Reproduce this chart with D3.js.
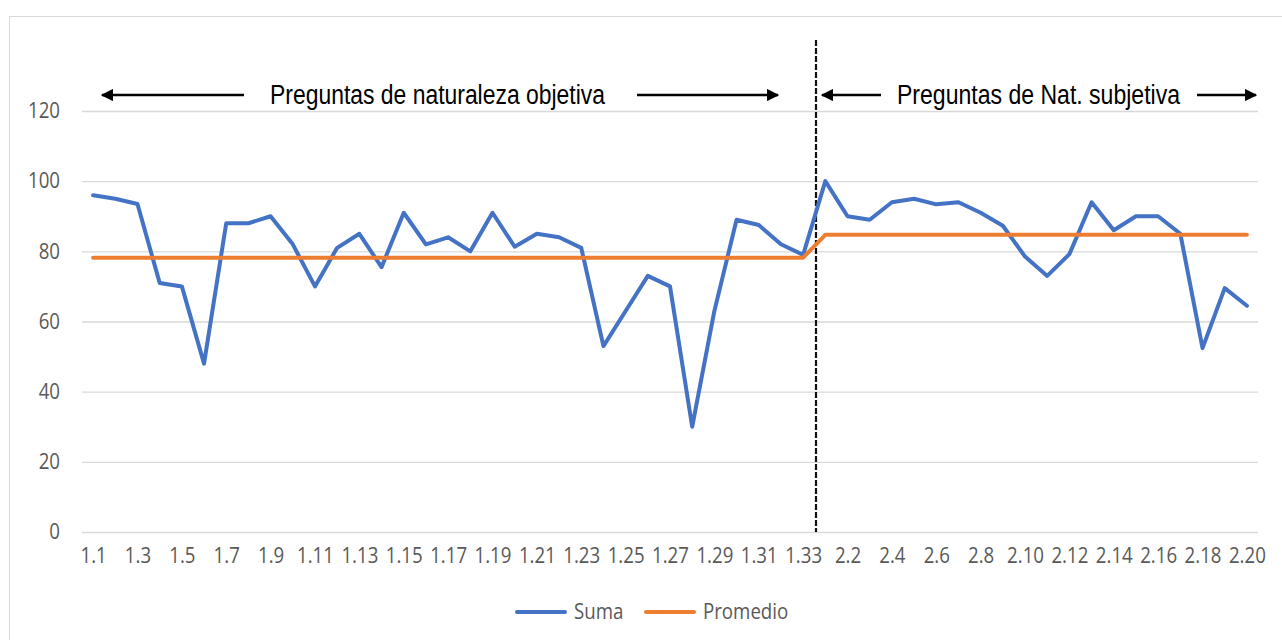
<!DOCTYPE html>
<html>
<head>
<meta charset="utf-8">
<script src="https://cdn.jsdelivr.net/npm/d3@7"></script>
<style>
  body { margin: 0; background: #fff; }
  svg { display: block; }
</style>
</head>
<body>
<script>
// categorias del eje x
var objetivas = d3.range(1, 34).map(function (i) { return "1." + i; });
var subjetivas = d3.range(1, 21).map(function (i) { return "2." + i; });
var categorias = objetivas.concat(subjetivas);

var suma = [96, 95, 93.5, 71, 70, 48, 88, 88, 90, 82, 70, 81, 85, 75.5, 91, 82, 84, 80,
            91, 81.3, 85, 84, 81, 53, 63, 73, 70, 30, 63, 89, 87.5, 82, 79,
            100, 90, 89, 94, 95, 93.4, 94, 91, 87.3, 78.5, 73, 79.2, 94, 86, 90, 90, 85, 52.4, 69.5, 64.5];
var promedioObj = 78.2, promedioSub = 84.7;
var promedio = categorias.map(function (c, i) { return i < objetivas.length ? promedioObj : promedioSub; });

var yTicks = [0, 20, 40, 60, 80, 100, 120];
var series = [{name: "Suma", values: suma, color: "#4472c4"},
              {name: "Promedio", values: promedio, color: "#ed7d31"}];

var W = 1282, H = 640;
var FONT = "'Open Sans', 'Liberation Sans', sans-serif";
var svg = d3.select("body").append("svg").attr("width", W).attr("height", H);

svg.append("defs").append("marker")
    .attr("id", "head").attr("viewBox", "0 0 10 10")
    .attr("refX", 9).attr("refY", 5)
    .attr("markerWidth", 5).attr("markerHeight", 5)
    .attr("markerUnits", "strokeWidth")
    .attr("orient", "auto-start-reverse")
  .append("path").attr("d", "M0,0 L10,5 L0,10 z").attr("fill", "#000");

// marco del grafico
svg.append("rect").attr("x", 9.5).attr("y", 16.5).attr("width", 1290).attr("height", 640)
    .attr("fill", "none").attr("stroke", "#d9d9d9");

var x = d3.scalePoint().domain(categorias).range([82, 1258]).padding(0.5);
var y = d3.scaleLinear().domain([0, 120]).range([532, 111]);

// rejilla
svg.append("g").selectAll("line").data(yTicks).enter().append("line")
    .attr("x1", 82).attr("x2", 1258)
    .attr("y1", function (d) { return y(d) + 0.5; }).attr("y2", function (d) { return y(d) + 0.5; })
    .attr("stroke", "#d9d9d9").attr("stroke-width", 1.3);

// texto algo condensado, parecido a Calibri
function estilo(sel, size) {
  sel.attr("fill", "#595959").attr("font-size", size).attr("font-family", FONT)
     .attr("transform", "scale(0.89,1)");
}

var yAxis = svg.append("g").attr("transform", "translate(60,0)")
    .call(d3.axisLeft(y).tickValues(yTicks).tickSize(0).tickPadding(0));
yAxis.select(".domain").remove();
yAxis.selectAll("text").call(estilo, 21);

var xAxis = svg.append("g").attr("transform", "translate(0,532)")
    .call(d3.axisBottom(x).tickValues(categorias.filter(function (c, i) { return i % 2 === 0; }))
        .tickSize(0).tickPadding(29));
xAxis.select(".domain").remove();
xAxis.selectAll("text").call(estilo, 21).attr("dy", "0.1em");

// separador
svg.append("line").attr("x1", 816).attr("x2", 816).attr("y1", 40).attr("y2", 532)
    .attr("stroke", "#111").attr("stroke-width", 2.2).attr("stroke-dasharray", "6,2");

var line = d3.line().x(function (d, i) { return x(categorias[i]); }).y(function (d) { return y(d); });
svg.selectAll("path.serie").data(series).enter().append("path")
    .attr("class", "serie")
    .attr("d", function (s) { return line(s.values); })
    .attr("fill", "none").attr("stroke", function (s) { return s.color; })
    .attr("stroke-width", 4).attr("stroke-linejoin", "round").attr("stroke-linecap", "round");

// anotaciones
var anot = [
  {text: "Preguntas de naturaleza objetiva", x0: 270, len: 335, a1: [244, 102], a2: [637, 778]},
  {text: "Preguntas de Nat. subjetiva", x0: 897, len: 283, a1: [881, 822], a2: [1197, 1256]}
];
anot.forEach(function (a) {
  [a.a1, a.a2].forEach(function (p) {
    svg.append("line").attr("x1", p[0]).attr("x2", p[1]).attr("y1", 95).attr("y2", 95)
        .attr("stroke", "#000").attr("stroke-width", 2.5).attr("marker-end", "url(#head)");
  });
  svg.append("text").attr("x", a.x0).attr("y", 104)
      .attr("font-size", 27).attr("font-family", "'Liberation Sans', Arial, sans-serif")
      .attr("textLength", a.len).attr("lengthAdjust", "spacingAndGlyphs")
      .attr("fill", "#000").text(a.text);
});

// leyenda
var legX = [517, 646];
var leg = svg.append("g").selectAll("g").data(series).enter().append("g")
    .attr("transform", function (d, i) { return "translate(" + legX[i] + ",612)"; });
leg.append("line").attr("x1", 0).attr("x2", 48).attr("stroke", function (d) { return d.color; })
    .attr("stroke-width", 4).attr("stroke-linecap", "round");
leg.append("g").attr("transform", "translate(57,0)")
  .append("text").attr("y", 7).text(function (d) { return d.name; }).call(estilo, 21);
</script>
</body>
</html>
